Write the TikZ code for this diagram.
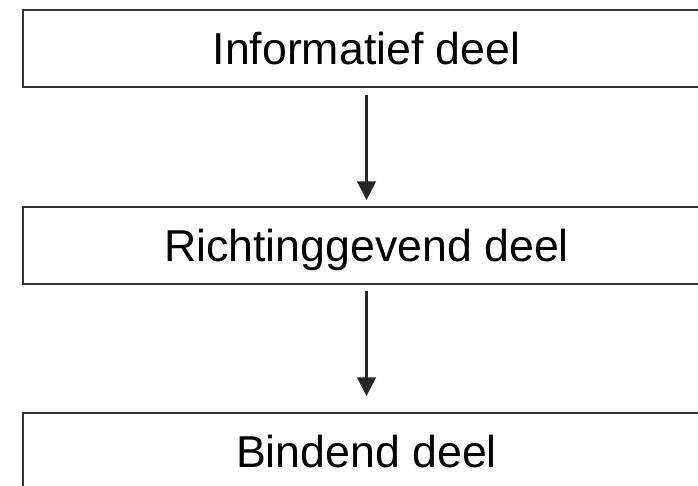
\documentclass[tikz,border=0pt]{standalone}
\usepackage{fontspec}
\setmainfont{Liberation Sans}
\usetikzlibrary{positioning,arrows.meta}

\begin{document}
\begin{tikzpicture}[
  deel/.style={draw=black!80, line width=1.8pt, minimum width=515.25pt, minimum height=57.75pt,
    inner sep=0pt, outer sep=0pt, text height=24pt, text depth=0pt,
    font=\fontsize{33.5}{40}\selectfont},
  pijl/.style={-{Triangle[length=14pt,width=14pt]}, line width=1.8pt, black!85}
]
  \useasboundingbox (0,0) rectangle (523.5pt,-363.75pt);
  \node[deel] (info) at (274.9pt,-36.4pt) {Informatief deel};
  \node[deel, below=90pt of info] (richt) {Richtinggevend deel};
  \node[deel, below=96.75pt of richt] (bind) {Bindend deel};
  \draw[pijl, shorten <=6pt, shorten >=5.25pt] (info) -- (richt);
  \draw[pijl, shorten <=5.25pt, shorten >=12.75pt] (richt) -- (bind);
\end{tikzpicture}
\end{document}
